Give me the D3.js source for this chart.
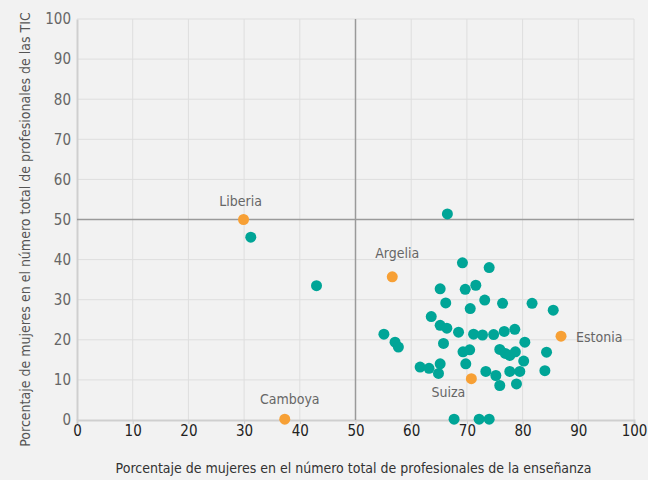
<!DOCTYPE html>
<html>
<head>
  <meta charset="utf-8">
  <title>Mujeres en la enseñanza y en las TIC</title>
  <style>
    body { margin: 0; background: #f2f2f2; }
    svg { display: block; background: #f2f2f2; }
    text { font-family: "Liberation Sans Narrow", "DejaVu Sans Condensed", "Roboto Condensed", sans-serif; font-stretch: condensed; }
    .grid line { stroke: #dedede; stroke-width: 1; }
    .mid { stroke: #9a9a9a; stroke-width: 1.5; }
    .dot { fill: #00a597; }
    .dot-hl { fill: #f7a035; }
    .lbl { fill: #666; font-size: 14px; }
  </style>
</head>
<body>
  <svg width="648" height="480"></svg>

  <script src="https://d3js.org/d3.v7.min.js"></script>
  <script>
    // Datos (porcentajes)
    const teachers = [66.5, 69.2, 74.0, 65.2, 69.7, 71.6, 66.2, 73.2, 76.4, 81.7,
      70.6, 85.5, 63.6, 65.2, 66.4, 68.5, 71.2, 72.8, 74.8, 76.7, 78.6, 55.1, 57.1,
      57.7, 65.8, 80.4, 69.3, 70.5, 75.9, 76.9, 77.7, 78.7, 84.3, 80.2, 65.2, 69.8,
      61.6, 63.2, 64.9, 73.4, 75.2, 77.7, 79.5, 84.0, 75.9, 78.9, 67.7, 72.2, 74.0,
      31.2, 43.0];
    const ict = [51.4, 39.2, 38.0, 32.7, 32.6, 33.6, 29.2, 29.9, 29.1, 29.1,
      27.8, 27.4, 25.8, 23.6, 22.9, 21.9, 21.4, 21.2, 21.3, 22.1, 22.6, 21.4, 19.4,
      18.2, 19.1, 19.4, 17.0, 17.5, 17.6, 16.6, 16.1, 17.0, 16.9, 14.7, 14.0, 14.0,
      13.2, 12.9, 11.6, 12.1, 11.1, 12.1, 12.1, 12.3, 8.6, 9.0, 0.2, 0.2, 0.2,
      45.6, 33.5];

    const hlNames = ["Liberia", "Argelia", "Estonia", "Suiza", "Camboya"];
    const hlTeachers = [29.9, 56.6, 86.9, 70.8, 37.3];
    const hlIct = [50.0, 35.7, 20.9, 10.3, 0.2];

    const ticks = [0, 10, 20, 30, 40, 50, 60, 70, 80, 90, 100];

    // posicion de las etiquetas respecto al punto
    const lblOffset = {
      "Liberia": [-3, -14, "middle"],
      "Argelia": [5, -19, "middle"],
      "Estonia": [15, 6, "start"],
      "Suiza": [-23, 18, "middle"],
      "Camboya": [5, -15, "middle"]
    };

    const margin = { top: 19, right: 14, bottom: 60, left: 77 };
    const width = 648 - margin.left - margin.right;
    const height = 480 - margin.top - margin.bottom;

    const svg = d3.select("svg");
    const g = svg.append("g").attr("transform", `translate(${margin.left},${margin.top})`);

    const x = d3.scaleLinear().domain([0, 100]).range([0, width]);
    const y = d3.scaleLinear().domain([0, 100]).range([height, 0]);

    // cuadricula
    const grid = g.append("g").attr("class", "grid");
    grid.selectAll(".gx").data(ticks.slice(1)).enter().append("line")
      .attr("x1", d => x(d)).attr("x2", d => x(d))
      .attr("y1", 0).attr("y2", height);
    grid.selectAll(".gy").data(ticks.slice(1)).enter().append("line")
      .attr("x1", 0).attr("x2", width)
      .attr("y1", d => y(d)).attr("y2", d => y(d));

    // ejes
    const xAxis = g.append("g")
      .attr("transform", `translate(0,${height})`)
      .call(d3.axisBottom(x).tickValues(ticks).tickSize(4).tickPadding(1));
    xAxis.select(".domain").attr("stroke", "#cfcfcf").attr("stroke-width", 2);
    xAxis.selectAll(".tick line").attr("stroke", "#cfcfcf");
    xAxis.selectAll("text").attr("fill", "#222").style("font-size", "15px");

    const yAxis = g.append("g")
      .call(d3.axisLeft(y).tickValues(ticks).tickSize(0).tickPadding(6));
    yAxis.select(".domain").attr("stroke", "#cfcfcf").attr("stroke-width", 2);
    yAxis.selectAll("text").attr("fill", "#666").style("font-size", "15px");

    // lineas del 50 %
    g.append("line").attr("class", "mid")
      .attr("x1", x(50)).attr("x2", x(50)).attr("y1", 0).attr("y2", height);
    g.append("line").attr("class", "mid")
      .attr("x1", 0).attr("x2", width).attr("y1", y(50)).attr("y2", y(50));

    // puntos
    g.selectAll(".dot").data(d3.range(teachers.length)).enter().append("circle")
      .attr("class", "dot")
      .attr("cx", i => x(teachers[i]))
      .attr("cy", i => y(ict[i]))
      .attr("r", 5.5);

    g.selectAll(".dot-hl").data(hlNames).enter().append("circle")
      .attr("class", "dot-hl")
      .attr("cx", (d, i) => x(hlTeachers[i]))
      .attr("cy", (d, i) => y(hlIct[i]))
      .attr("r", 5.5);

    g.selectAll(".lbl").data(hlNames).enter().append("text")
      .attr("class", "lbl")
      .attr("x", (d, i) => x(hlTeachers[i]) + lblOffset[d][0])
      .attr("y", (d, i) => y(hlIct[i]) + lblOffset[d][1])
      .attr("text-anchor", d => lblOffset[d][2])
      .text(d => d);

    // titulos de los ejes
    svg.append("text")
      .attr("x", margin.left + width / 2 - 2)
      .attr("y", 473)
      .attr("text-anchor", "middle")
      .attr("fill", "#333")
      .style("font-size", "14px")
      .text("Porcentaje de mujeres en el número total de profesionales de la enseñanza");

    svg.append("text")
      .attr("transform", `translate(30,${margin.top + height / 2 + 10}) rotate(-90)`)
      .attr("text-anchor", "middle")
      .attr("fill", "#555")
      .style("font-size", "14px")
      .text("Porcentaje de mujeres en el número total de profesionales de las TIC");
  </script>
</body>
</html>
